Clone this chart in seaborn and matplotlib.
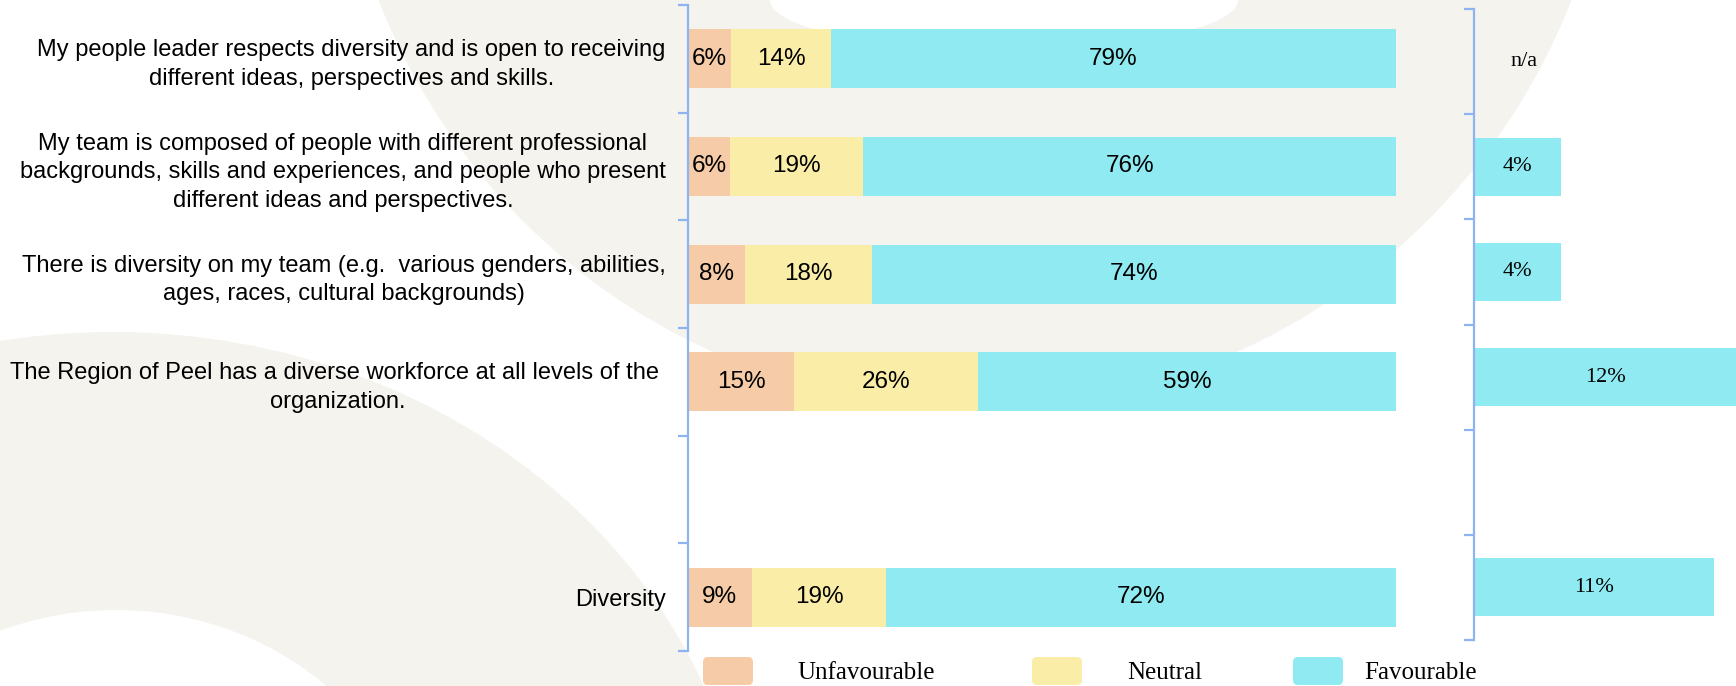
import numpy as np
import pandas as pd
import matplotlib
matplotlib.use("Agg")
import matplotlib.pyplot as plt
import seaborn as sns
from matplotlib.patches import Ellipse, Circle, FancyBboxPatch

# ---------------- data ----------------
categories = [
    "My people leader respects diversity and is open to receiving\ndifferent ideas, perspectives and skills.",
    "My team is composed of people with different professional\nbackgrounds, skills and experiences, and people who present\ndifferent ideas and perspectives.",
    "There is diversity on my team (e.g.  various genders, abilities,\nages, races, cultural backgrounds)",
    "The Region of Peel has a diverse workforce at all levels of the \norganization.",
    " ",
    "Diversity",
]
unfavourable = [6, 6, 8, 15, np.nan, 9]
neutral = [14, 19, 18, 26, np.nan, 19]
favourable = [79, 76, 74, 59, np.nan, 72]
change = [np.nan, 4, 4, 12, np.nan, 11]
change_labels = ["n/a", "4%", "4%", "12%", "", "11%"]
series_names = ["Unfavourable", "Neutral", "Favourable"]

# ---------------- style ----------------
W, H, DPI = 1736, 686, 100
C_UNF = "#F6CBA8"
C_NEU = "#F9EDA8"
C_FAV = "#90EAF1"
C_AXIS = "#8DB4F0"
BEIGE = "#F4F3EE"
SANS = ["Liberation Sans", "DejaVu Sans"]
SERIF = ["Liberation Serif", "DejaVu Serif"]
BAR_W = 0.55
NA_X = 2.3
FS = 17
FS_VAL = 17.5

sns.set_theme(style="white")
plt.rcParams["font.family"] = SANS

fig = plt.figure(figsize=(W / DPI, H / DPI), dpi=DPI, facecolor="white")

# decorative background arcs (figure pixel coordinates)
bg = fig.add_axes([0, 0, 1, 1], zorder=0)
bg.set_xlim(0, W)
bg.set_ylim(H, 0)
bg.axis("off")
bg.add_patch(Circle((975, -232), 640, color=BEIGE, lw=0))
bg.add_patch(Ellipse((1004, 0), 2 * 234, 2 * 50, color="white", lw=0))
bg.add_patch(Ellipse((113, 900), 2 * 638, 2 * 568, color=BEIGE, lw=0))
bg.add_patch(Ellipse((116, 900), 2 * 312, 2 * 290, color="white", lw=0))

# ---------------- main stacked bars ----------------
df = pd.DataFrame({
    "category": categories,
    "Unfavourable": unfavourable,
    "Neutral": neutral,
    "Favourable": favourable,
})
total = df[series_names].sum(axis=1, min_count=1)
share = df[series_names].div(total, axis=0) * 100
df["cum_unf"] = share["Unfavourable"]
df["cum_neu"] = share["Unfavourable"] + share["Neutral"]
df["cum_fav"] = share["Unfavourable"] + share["Neutral"] + share["Favourable"]

ax = fig.add_axes([688 / W, (H - 651) / H, 708 / W, 646 / H], zorder=1)
ax.patch.set_alpha(0)
for col, c in [("cum_fav", C_FAV), ("cum_neu", C_NEU), ("cum_unf", C_UNF)]:
    sns.barplot(data=df, y="category", x=col, order=categories, orient="h",
                color=c, saturation=1, width=BAR_W, errorbar=None,
                edgecolor="none", linewidth=0, ax=ax)

ax.set_xlim(0, 100)
ax.set_ylim(len(categories) - 0.5, -0.5)
ax.set_xlabel("")
ax.set_ylabel("")
ax.set_xticks([])
ax.set_yticks(range(len(categories)))
ax.set_yticklabels(categories, fontsize=FS, family=SANS, color="black",
                   linespacing=1.38)
for lbl in ax.get_yticklabels():
    lbl.set_multialignment("center")
ax.tick_params(axis="y", which="major", length=0, pad=16)
ax.set_yticks(np.arange(-0.5, len(categories), 1), minor=True)
ax.tick_params(axis="y", which="minor", length=7, width=1.6, color=C_AXIS,
               direction="out", left=True)
for s in ["top", "right", "bottom"]:
    ax.spines[s].set_visible(False)
ax.spines["left"].set_color(C_AXIS)
ax.spines["left"].set_linewidth(1.6)

for i in range(len(categories)):
    if np.isnan(total.iloc[i]):
        continue
    start = 0.0
    for name in series_names:
        w = share[name].iloc[i]
        ax.text(start + w / 2, i, f"{int(df[name].iloc[i])}%", ha="center",
                va="center", fontsize=FS_VAL, family=SANS, color="black")
        start += w

# ---------------- right panel (change) ----------------
dfc = pd.DataFrame({"category": categories, "change": change})
ax2 = fig.add_axes([1474 / W, (H - 640) / H, (W - 1474) / W, 631 / H], zorder=1)
ax2.patch.set_alpha(0)
sns.barplot(data=dfc, y="category", x="change", order=categories, orient="h",
            color=C_FAV, saturation=1, width=BAR_W, errorbar=None,
            edgecolor="none", linewidth=0, ax=ax2)
ax2.set_xlim(0, np.nanmax(change))
ax2.set_ylim(len(categories) - 0.5, -0.5)
ax2.set_xlabel("")
ax2.set_ylabel("")
ax2.set_xticks([])
ax2.set_yticks([])
ax2.set_yticks(np.arange(-0.5, len(categories), 1), minor=True)
ax2.tick_params(axis="y", which="minor", length=7, width=1.6, color=C_AXIS,
                direction="out", left=True)
for s in ["top", "right", "bottom"]:
    ax2.spines[s].set_visible(False)
ax2.spines["left"].set_color(C_AXIS)
ax2.spines["left"].set_linewidth(1.6)
for i, (v, lab) in enumerate(zip(change, change_labels)):
    if not lab:
        continue
    xpos = NA_X if np.isnan(v) else v / 2
    ax2.text(xpos, i, lab, ha="center", va="center", fontsize=16,
             family=SERIF, color="black", clip_on=False)

# ---------------- legend ----------------
legend_items = [
    (series_names[0], C_UNF, 703, 797),
    (series_names[1], C_NEU, 1032, 1127),
    (series_names[2], C_FAV, 1293, 1364),
]
for name, c, px, tx in legend_items:
    bg.add_patch(FancyBboxPatch((px, 657), 50, 28,
                                boxstyle="round,pad=0,rounding_size=5",
                                facecolor=c, edgecolor="none"))
    bg.text(tx, 673, name, ha="left", va="center", fontsize=18,
            family=SERIF, color="black")

fig.savefig("out.png", dpi=DPI, facecolor="white")
